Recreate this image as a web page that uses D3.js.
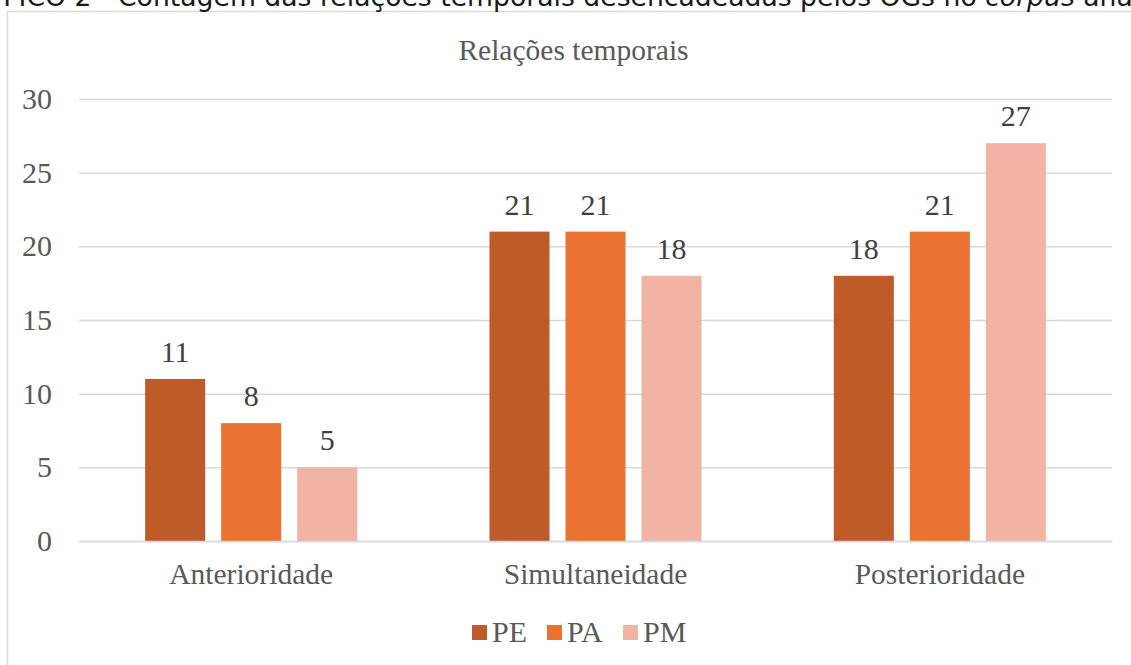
<!DOCTYPE html>
<html><head><meta charset="utf-8">
<script src="https://cdn.jsdelivr.net/npm/d3@7"></script>
<style>body{margin:0;background:#fff;overflow:hidden}svg{display:block}</style>
</head><body>
<svg id="c" width="1131" height="665"></svg>
<script>
const categories = ["Anterioridade", "Simultaneidade", "Posterioridade"];
const seriesNames = ["PE", "PA", "PM"];
const PE = [11, 21, 18];
const PA = [8, 21, 21];
const PM = [5, 18, 27];
const yTicks = [0, 5, 10, 15, 20, 25, 30];
const colors = ["#BF5B28", "#EA7233", "#F1B3A4"];
const title = "Relações temporais";
const captionLead = "FICO 2 - ";
const captionMain = "Contagem das relações temporais desencadeadas pelos OGs no ";
const captionItalic = "corpus";
const captionEnd = " ana";

const series = [PE, PA, PM];
const svg = d3.select("#c");
const serif = "'Liberation Serif','Times New Roman',serif";

// frame
svg.append("rect").attr("x", 7.5).attr("y", 11.5).attr("width", 1200).attr("height", 700)
  .attr("fill", "#fff").attr("stroke", "#d9d9d9").attr("stroke-width", 1.5);

// caption (cut at top edge as in the source image)
const cap = svg.append("text").attr("y", 6)
  .attr("font-family", "'DejaVu Sans',sans-serif").attr("font-size", 25).attr("fill", "#1a1a1a");
const tLead = cap.append("tspan").text(captionLead);
const tMain = cap.append("tspan").text(captionMain);
const tIt = cap.append("tspan").attr("font-style", "italic").text(captionItalic);
const tEnd = cap.append("tspan").text(captionEnd);
{
  const w = tMain.node().getComputedTextLength() + tIt.node().getComputedTextLength() + tEnd.node().getComputedTextLength();
  const fs = 25 * (1133 - 118) / w;
  cap.attr("font-size", fs);
  const lw = tLead.node().getComputedTextLength();
  cap.attr("x", 118 - lw);
}

const pLeft = 79, pRight = 1112, pTop = 99, pBottom = 541;
const y = d3.scaleLinear().domain([0, 30]).range([pBottom, pTop]);
const x0 = d3.scaleBand().domain(categories).range([pLeft, pRight]).paddingInner(0).paddingOuter(0);
const x1 = d3.scaleBand().domain(seriesNames).range([0, x0.bandwidth()]).paddingInner(0.21).paddingOuter(0.87);

// gridlines + y tick labels
const yAxis = d3.axisLeft(y).tickValues(yTicks).tickSize(-(pRight - pLeft)).tickPadding(27);
const ga = svg.append("g").attr("transform", `translate(${pLeft},0)`).call(yAxis);
ga.select(".domain").remove();
ga.selectAll(".tick line").attr("stroke", "#d9d9d9").attr("stroke-width", 1.5);
ga.selectAll(".tick text").attr("font-family", serif).attr("font-size", 30).attr("fill", "#595959");

// bars + value labels
const g = svg.append("g");
categories.forEach((c, i) => {
  seriesNames.forEach((s, j) => {
    const v = series[j][i];
    g.append("rect").attr("x", x0(c) + x1(s)).attr("y", y(v))
      .attr("width", x1.bandwidth()).attr("height", y(0) - y(v)).attr("fill", colors[j]);
    g.append("text").attr("x", x0(c) + x1(s) + x1.bandwidth() / 2).attr("y", y(v) - 17)
      .attr("text-anchor", "middle").attr("font-family", serif).attr("font-size", 30)
      .attr("fill", "#404040").text(v);
  });
});

// x axis labels
const xAxis = d3.axisBottom(x0).tickSize(0).tickPadding(22);
const gx = svg.append("g").attr("transform", `translate(0,${pBottom})`).call(xAxis);
gx.select(".domain").attr("stroke", "#d9d9d9").attr("stroke-width", 1.5);
gx.selectAll(".tick text").attr("font-family", serif).attr("font-size", 29.5).attr("fill", "#595959");

// title
svg.append("text").attr("x", 573.5).attr("y", 60).attr("text-anchor", "middle")
  .attr("font-family", serif).attr("font-size", 29.5).attr("fill", "#595959").text(title);

// legend
const legX = [472, 547, 623];
seriesNames.forEach((s, j) => {
  svg.append("rect").attr("x", legX[j]).attr("y", 625).attr("width", 15).attr("height", 15).attr("fill", colors[j]);
  svg.append("text").attr("x", legX[j] + 20).attr("y", 642).attr("font-family", serif)
    .attr("font-size", 30).attr("fill", "#595959").text(s);
});
</script>
</body></html>
